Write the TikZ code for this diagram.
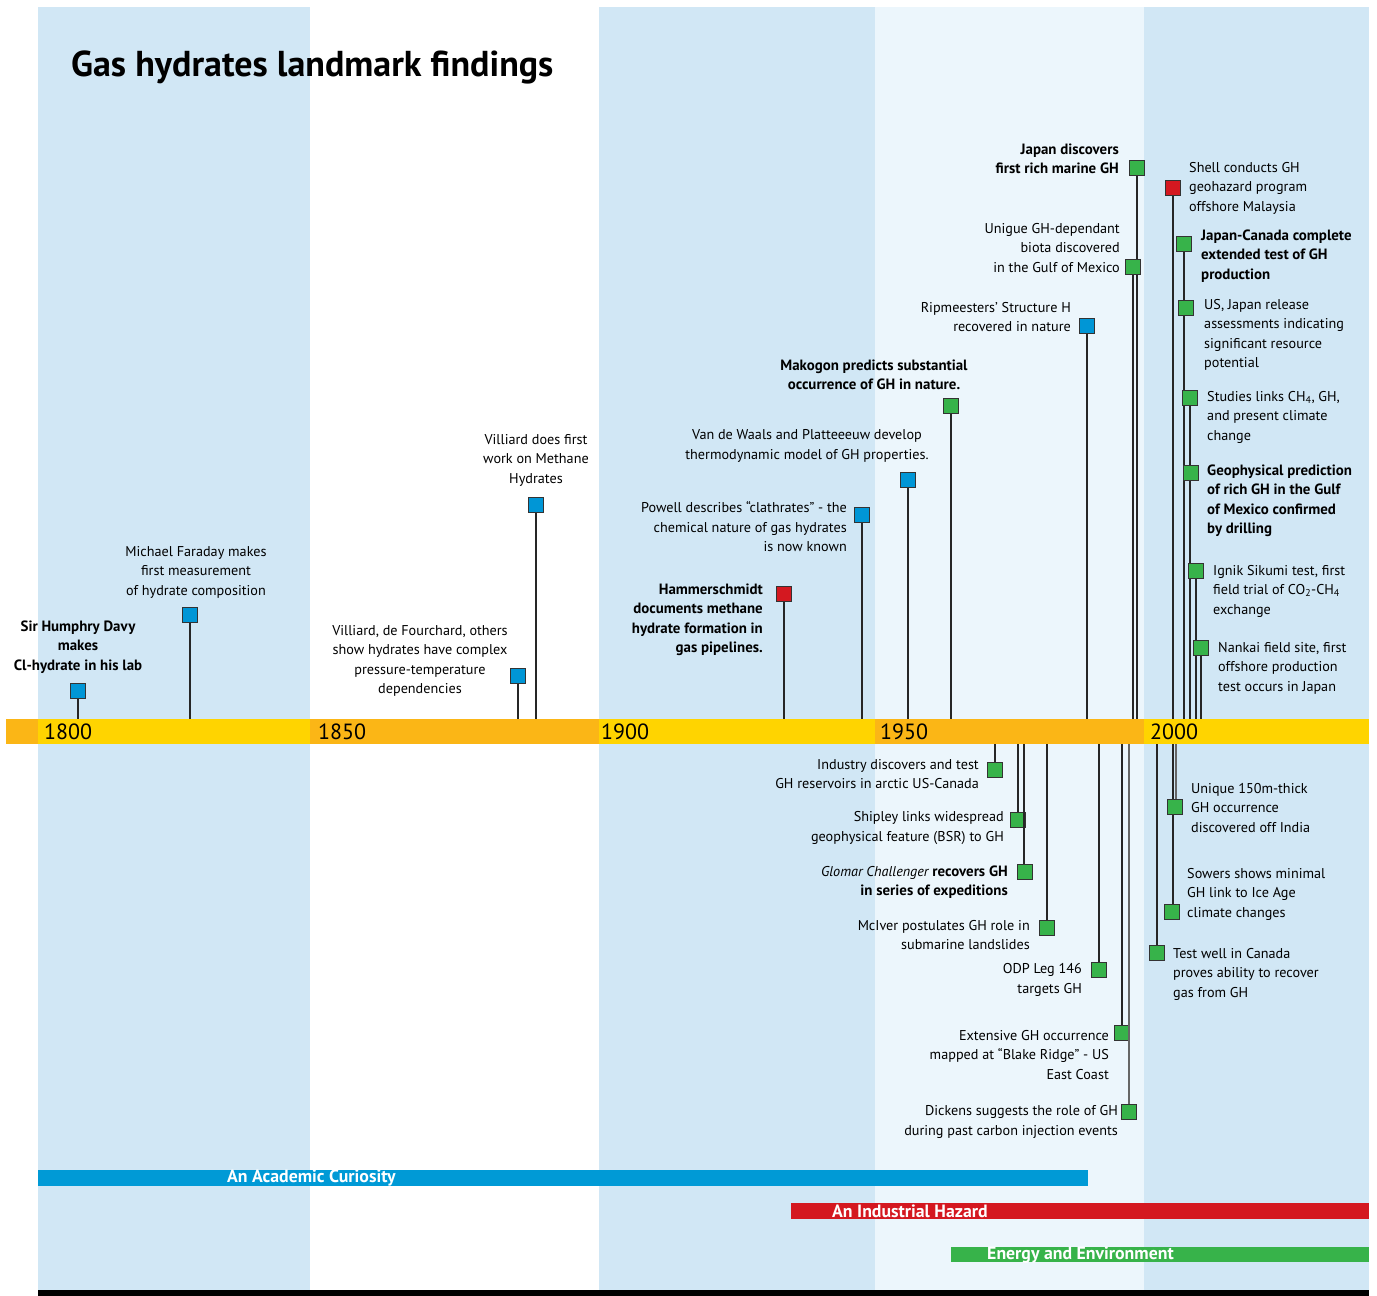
\documentclass[tikz,border=0pt]{standalone}
\usepackage{fontspec}
\setmainfont{PT Sans}
\definecolor{bandblue}{RGB}{209,231,245}
\definecolor{bandlight}{RGB}{236,246,252}
\definecolor{baryellow}{RGB}{255,212,0}
\definecolor{barorange}{RGB}{251,182,22}
\definecolor{mblue}{RGB}{0,150,214}
\definecolor{mgreen}{RGB}{55,179,74}
\definecolor{mred}{RGB}{212,24,32}
\definecolor{pblue}{RGB}{0,154,214}
\begin{document}
\begin{tikzpicture}[x=1pt,y=-1pt,
  sq/.style={draw=black!80, line width=0.9pt, minimum size=14.5pt, inner sep=0pt, fill=#1},
  stem/.style={draw=black!85, line width=1.1pt},
  txt/.style={font=\fontsize{14.2}{19.5}\selectfont, inner sep=0pt, text=black},
  bld/.style={font=\fontsize{14.9}{19.5}\selectfont\bfseries},
  ctxt/.style={txt, align=center},
  ltxt/.style={txt, align=left, anchor=west},
  rtxt/.style={txt, align=right, anchor=east},
  year/.style={font=\fontsize{22}{24}\selectfont, inner sep=0pt, anchor=west},
  plabel/.style={font=\fontsize{17.8}{19}\selectfont\bfseries, text=white, inner sep=0pt, anchor=west}]
\useasboundingbox (0,0) rectangle (1377,1296);
% background bands
\fill[bandblue] (38,7) rectangle (310,1290);
\fill[bandblue] (599,7) rectangle (875,1290);
\fill[bandlight] (875,7) rectangle (1144,1290);
\fill[bandblue] (1144,7) rectangle (1369,1290);
\fill[black] (38,1290) rectangle (1369,1296);
% title
\node[anchor=west, inner sep=0pt, font=\fontsize{36}{40}\selectfont\bfseries] (title) at (71,67) {Gas hydrates landmark findings};
% time bar
\fill[barorange] (6,719) rectangle (38,744);
\fill[baryellow] (38,719) rectangle (310,744);
\fill[barorange] (310,719) rectangle (599,744);
\fill[baryellow] (599,719) rectangle (875,744);
\fill[barorange] (875,719) rectangle (1144,744);
\fill[baryellow] (1144,719) rectangle (1369,744);
\coordinate (bt) at (0,719);
\coordinate (bb) at (0,744);
\node[year] (y1800) at (44,732) {1800};
\node[year] (y1850) at (318,732) {1850};
\node[year] (y1900) at (601,732) {1900};
\node[year] (y1950) at (880,732) {1950};
\node[year] (y2000) at (1150,732) {2000};
% ---------- events above the bar ----------
\node[sq=mblue] (e1) at (78,691) {};
\draw[stem] (e1.south) -- (e1.south |- bt);
\node[ctxt, bld] (t1) at (78,647) {Sir Humphry Davy\\makes\\Cl-hydrate in his lab};
\node[sq=mblue] (e2) at (190,615) {};
\draw[stem] (e2.south) -- (e2.south |- bt);
\node[ctxt] (t2) at (196,572) {Michael Faraday makes\\first measurement\\of hydrate composition};
\node[sq=mblue] (e3) at (518,676) {};
\draw[stem] (e3.south) -- (e3.south |- bt);
\node[ctxt] (t3) at (420,661) {Villiard, de Fourchard, others\\show hydrates have complex\\pressure-temperature\\dependencies};
\node[sq=mblue] (e4) at (536,505) {};
\draw[stem] (e4.south) -- (e4.south |- bt);
\node[ctxt] (t4) at (536,460) {Villiard does first\\work on Methane\\Hydrates};
\node[sq=mred] (e5) at (784,594) {};
\draw[stem] (e5.south) -- (e5.south |- bt);
\node[rtxt, bld] (t5) at (763,620) {Hammerschmidt\\documents methane\\hydrate formation in\\gas pipelines.};
\node[sq=mblue] (e6) at (862,515) {};
\draw[stem] (e6.south) -- (e6.south |- bt);
\node[rtxt] (t6) at (847,527) {Powell describes “clathrates” - the\\chemical nature of gas hydrates\\is now known};
\node[sq=mblue] (e7) at (908,480) {};
\draw[stem] (e7.south) -- (e7.south |- bt);
\node[ctxt] (t7) at (807,446) {Van de Waals and Platteeeuw develop\\thermodynamic model of GH properties.};
\node[sq=mgreen] (e8) at (951,406) {};
\draw[stem] (e8.south) -- (e8.south |- bt);
\node[ctxt, bld] (t8) at (874,375) {Makogon predicts substantial\\occurrence of GH in nature.};
\node[sq=mblue] (e9) at (1087,326) {};
\draw[stem] (e9.south) -- (e9.south |- bt);
\node[rtxt] (t9) at (1071,317) {Ripmeesters’ Structure H\\recovered in nature};
\node[sq=mgreen] (e11) at (1137,168) {};
\draw[stem] (e11.south) -- (e11.south |- bt);
\node[rtxt, bld] (t11) at (1119,159) {Japan discovers\\first rich marine GH};
\node[sq=mgreen] (e10) at (1133,267) {};
\draw[stem] (e10.south) -- (e10.south |- bt);
\node[rtxt] (t10) at (1120,248) {Unigue GH-dependant\\biota discovered\\in the Gulf of Mexico};
% right side (2000s)
\node[sq=mred] (e12) at (1173,188) {};
\draw[stem] (e12.south) -- (e12.south |- bt);
\node[ltxt] (t12) at (1189,188) {Shell conducts GH\\geohazard program\\offshore Malaysia};
\node[sq=mgreen] (e13) at (1184,244) {};
\draw[stem] (e13.south) -- (e13.south |- bt);
\node[ltxt, bld] (t13) at (1201,256) {Japan-Canada complete\\extended test of GH\\production};
\node[sq=mgreen] (e14) at (1186,308) {};
\node[ltxt] (t14) at (1204,335) {US, Japan release\\assessments indicating\\significant resource\\potential};
\node[sq=mgreen] (e15) at (1190,398) {};
\draw[stem] (e15.south) -- (e15.south |- bt);
\node[ltxt] (t15) at (1207,417) {Studies links CH\textsubscript{4}, GH,\\and present climate\\change};
\node[sq=mgreen] (e16) at (1191,473) {};
\node[ltxt, bld] (t16) at (1207,501) {Geophysical prediction\\of rich GH in the Gulf\\of Mexico confirmed\\by drilling};
\node[sq=mgreen] (e17) at (1196,571) {};
\draw[stem] (e17.south) -- (e17.south |- bt);
\node[ltxt] (t17) at (1213,591) {Ignik Sikumi test, first\\field trial of CO\textsubscript{2}-CH\textsubscript{4}\\exchange};
\node[sq=mgreen] (e18) at (1201,648) {};
\draw[stem] (e18.south) -- (e18.south |- bt);
\node[ltxt] (t18) at (1218,668) {Nankai field site, first\\offshore production\\test occurs in Japan};
% ---------- events below the bar ----------
\node[sq=mgreen] (b1) at (995,770) {};
\draw[stem] (b1.north) -- (b1.north |- bb);
\node[rtxt] (u1) at (979,774) {Industry discovers and test\\GH reservoirs in arctic US-Canada};
\node[sq=mgreen] (b2) at (1018,820) {};
\draw[stem] (b2.north) -- (b2.north |- bb);
\node[rtxt] (u2) at (1004,828) {Shipley links widespread\\geophysical feature (BSR) to GH};
\node[sq=mgreen] (b3) at (1025,872) {};
\draw[stem] ([xshift=-1pt]b3.north) -- ([xshift=-1pt]b3.north |- bb);
\node[rtxt] (u3) at (1008,882) {{\itshape Glomar Challenger} {\bfseries\fontsize{14.9}{19.5}\selectfont recovers GH}\\{\bfseries\fontsize{14.9}{19.5}\selectfont in series of expeditions}};
\node[sq=mgreen] (b4) at (1047,928) {};
\draw[stem] (b4.north) -- (b4.north |- bb);
\node[rtxt] (u4) at (1030,935) {McIver postulates GH role in\\submarine landslides};
\node[sq=mgreen] (b5) at (1099,970) {};
\draw[stem] (b5.north) -- (b5.north |- bb);
\node[rtxt] (u5) at (1082,980) {ODP Leg 146\\targets GH};
\node[sq=mgreen] (b6) at (1122,1033) {};
\draw[stem] (b6.north) -- (b6.north |- bb);
\node[rtxt] (u6) at (1109,1055) {Extensive GH occurrence\\mapped at “Blake Ridge” - US\\East Coast};
\node[sq=mgreen] (b7) at (1129,1112) {};
\draw[stem, draw=black!60] (b7.north) -- (b7.north |- bb);
\node[rtxt] (u7) at (1118,1122) {Dickens suggests the role of GH\\during past carbon injection events};
\node[sq=mgreen] (b8) at (1175,807) {};
\draw[stem, draw=black!60] ([xshift=1pt]b8.north) -- ([xshift=1pt]b8.north |- bb);
\node[ltxt] (u8) at (1191,808) {Unique 150m-thick\\GH occurrence\\discovered off India};
\node[sq=mgreen] (b9) at (1172,912) {};
\draw[stem] ([xshift=1pt]b9.north) -- ([xshift=1pt]b9.north |- bb);
\node[ltxt] (u9) at (1187,894) {Sowers shows minimal\\GH link to Ice Age\\climate changes};
\node[sq=mgreen] (b10) at (1157,953) {};
\draw[stem] (b10.north) -- (b10.north |- bb);
\node[ltxt] (u10) at (1173,974) {Test well in Canada\\proves ability to recover\\gas from GH};
% redraw squares on top of stems passing through them
\node[sq=mgreen] at (e14) {};
\node[sq=mgreen] at (e16) {};
\node[sq=mgreen] at (b8) {};
% ---------- period bars ----------
\fill[pblue] (38,1170) rectangle (1088,1186);
\node[plabel] (p1) at (227,1178) {An Academic Curiosity};
\fill[mred] (791,1203) rectangle (1369,1219);
\node[plabel] (p2) at (832,1211) {An Industrial Hazard};
\fill[mgreen] (951,1247) rectangle (1369,1262);
\node[plabel] (p3) at (987,1255) {Energy and Environment};
\end{tikzpicture}
\end{document}
